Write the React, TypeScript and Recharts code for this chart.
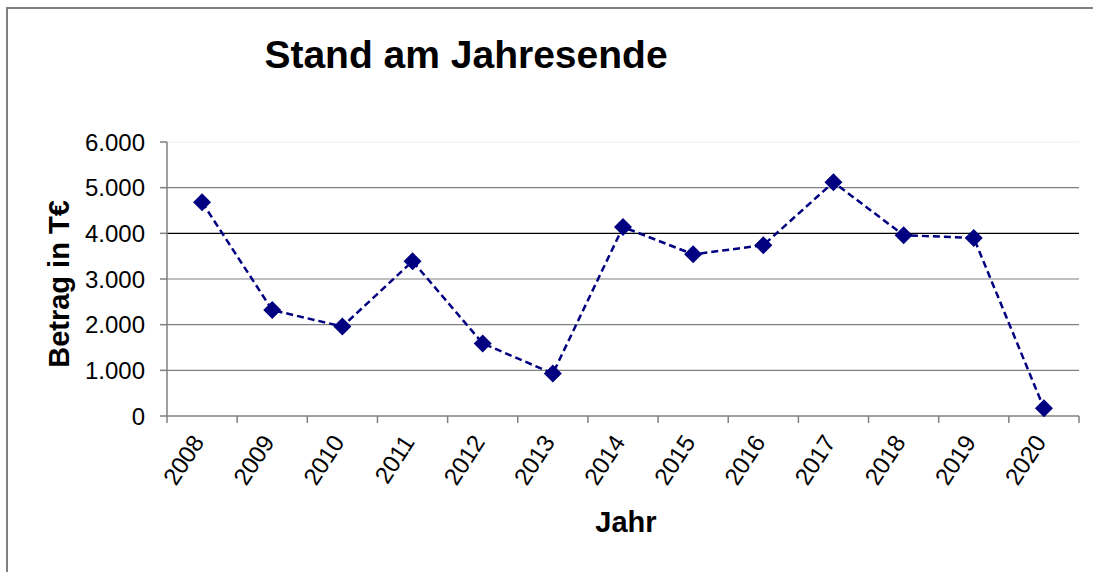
import { LineChart, Line, XAxis, YAxis, ReferenceLine } from "recharts";

// ─── Data ───────────────────────────────────────────────────────────────────
const YEARS = ["2008", "2009", "2010", "2011", "2012", "2013", "2014", "2015", "2016", "2017", "2018", "2019", "2020"];
const BETRAG = [4680, 2320, 1960, 3390, 1590, 930, 4140, 3540, 3740, 5120, 3960, 3900, 170];
const Y_TICKS = [0, 1000, 2000, 3000, 4000, 5000, 6000];
const GRID_VALUES = [1000, 2000, 3000, 4000, 5000, 6000];

// ─── Palette / layout ───────────────────────────────────────────────────────
const NAVY = "#000080";
const AXIS = "#808080";
const FONT = "'Liberation Sans', Arial, sans-serif";

const W = 1093;
const H = 572;
const M_LEFT = 167;
const M_RIGHT = 14;
const HALF_BAND = (W - M_LEFT - M_RIGHT) / YEARS.length / 2;

const data = BETRAG.map((v, i) => ({ x: i + 0.5, v }));
const bounds = YEARS.map((_, i) => i).concat(YEARS.length);

const gridColor = (v: number) => (v === 6000 ? "#eeeeee" : v === 4000 ? "#000000" : AXIS);

function fmtThousand(v: number) {
  return v === 0 ? "0" : v.toLocaleString("de-DE");
}

function Diamond(props: any) {
  const { cx, cy } = props;
  if (cx == null || cy == null) return null;
  const r = 9;
  return <path d={`M${cx},${cy - r}L${cx + r},${cy}L${cx},${cy + r}L${cx - r},${cy}Z`} fill={NAVY} />;
}

function YearTick(props: any) {
  const { x, y, payload } = props;
  const label = YEARS[payload.value];
  if (!label) return <g />;
  const tx = x + HALF_BAND + 3;
  const ty = y + 17;
  return (
    <text
      x={tx}
      y={ty}
      textAnchor="end"
      transform={`rotate(-57 ${tx} ${ty})`}
      fontSize={24}
      fontFamily={FONT}
      fill="#000"
    >
      {label}
    </text>
  );
}

export default function App() {
  return (
    <div style={{ position: "absolute", left: 0, top: 0, width: W, height: H, overflow: "hidden", background: "#fff" }}>
      {/* outer frame */}
      <div
        style={{
          position: "absolute",
          left: 6,
          top: 7,
          width: W + 20,
          height: H + 20,
          border: `2px solid ${AXIS}`,
          boxSizing: "border-box",
        }}
      />
      <LineChart
        width={W}
        height={H}
        data={data}
        margin={{ top: 142, right: M_RIGHT, left: 0, bottom: 56 }}
        style={{ position: "absolute", left: 0, top: 0 }}
      >
        {GRID_VALUES.map((g) => (
          <ReferenceLine key={g} y={g} stroke={gridColor(g)} strokeWidth={1.2} />
        ))}
        <XAxis
          dataKey="x"
          type="number"
          domain={[0, YEARS.length]}
          ticks={bounds}
          interval={0}
          height={100}
          stroke={AXIS}
          strokeWidth={1.5}
          tickSize={7}
          tick={<YearTick />}
        />
        <YAxis
          domain={[0, 6000]}
          ticks={Y_TICKS}
          width={M_LEFT}
          stroke={AXIS}
          strokeWidth={1.5}
          tickSize={7}
          tickMargin={15}
          tickFormatter={fmtThousand}
          tick={{ fill: "#000", fontSize: 24, fontFamily: FONT }}
          interval={0}
        />
        <Line
          type="linear"
          dataKey="v"
          stroke={NAVY}
          strokeWidth={2.5}
          strokeDasharray="7 4"
          dot={<Diamond />}
          activeDot={false}
          isAnimationActive={false}
        />
        <text x={466} y={68} textAnchor="middle" fontSize={39} fontWeight="bold" fontFamily={FONT} fill="#000">
          Stand am Jahresende
        </text>
        <text
          x={69}
          y={284}
          textAnchor="middle"
          transform="rotate(-90 69 284)"
          fontSize={29}
          fontWeight="bold"
          fontFamily={FONT}
          fill="#000"
        >
          Betrag in T€
        </text>
        <text x={626} y={532} textAnchor="middle" fontSize={29} fontWeight="bold" fontFamily={FONT} fill="#000">
          Jahr
        </text>
      </LineChart>
    </div>
  );
}
